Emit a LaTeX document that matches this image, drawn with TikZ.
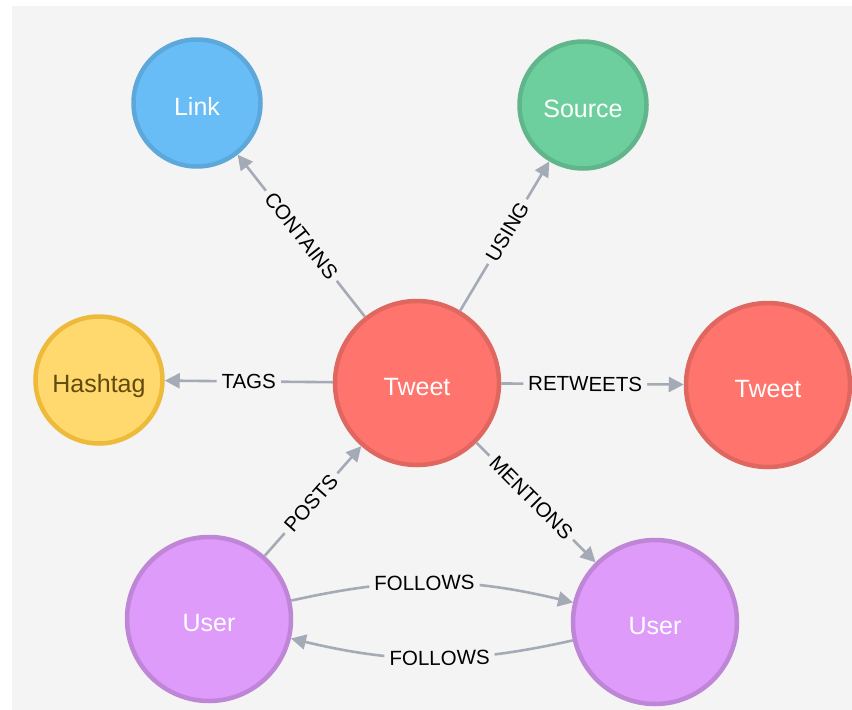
\documentclass[tikz,border=0pt]{standalone}
\usepackage{fontspec}
\setmainfont{Liberation Sans}
\usetikzlibrary{arrows.meta}
\definecolor{panel}{HTML}{F4F4F4}
\definecolor{edgec}{HTML}{A5ABB6}
\definecolor{linkf}{HTML}{68BDF6}\definecolor{linkb}{HTML}{5CA8DB}
\definecolor{srcf}{HTML}{6DCE9E}\definecolor{srcb}{HTML}{60B58B}
\definecolor{hashf}{HTML}{FFD86E}\definecolor{hashb}{HTML}{EDBA39}\definecolor{hasht}{HTML}{604A0E}
\definecolor{twf}{HTML}{FF756E}\definecolor{twb}{HTML}{E06760}
\definecolor{usf}{HTML}{DE9BF9}\definecolor{usb}{HTML}{BF85D6}
\tikzset{
  gnode/.style={circle, line width=4.5pt, inner sep=0pt, text=white, text height=24pt, text depth=0pt, font=\fontsize{25}{30}\selectfont},
  small/.style={gnode, minimum size=127pt},
  big/.style={gnode, minimum size=164pt},
  rel/.style={draw=edgec, line width=2.6pt, -{Triangle[length=15pt,width=15pt]}},
  lab/.style={fill=panel, inner sep=5pt, text=black, font=\fontsize{20.5}{24}\selectfont, sloped},
}
\begin{document}
\begin{tikzpicture}[x=1pt,y=-1pt]
\useasboundingbox (0,0) rectangle (852,710);
\fill[white] (0,0) rectangle (852,710);
\fill[panel] (12,6) rectangle (852,710);
\node[small, fill=linkf, draw=linkb] (link) at (197,103) {Link};
\node[small, fill=srcf, draw=srcb] (source) at (583,105) {Source};
\node[small, fill=hashf, draw=hashb, text=hasht] (hash) at (99,380) {Hashtag};
\node[big, fill=twf, draw=twb] (tweet) at (417,383) {Tweet};
\node[big, fill=twf, draw=twb] (tweet2) at (768,385) {Tweet};
\node[big, fill=usf, draw=usb] (user1) at (209,619) {User};
\node[big, fill=usf, draw=usb] (user2) at (655,622) {User};
\draw[rel] (tweet) -- node[lab] {CONTAINS} (link);
\draw[rel] (tweet) -- node[lab, pos=0.53] {USING} (source);
\draw[rel] (tweet) -- node[lab] {TAGS} (hash);
\draw[rel] (tweet) -- node[lab, pos=0.46] {RETWEETS} (tweet2);
\draw[rel] (tweet) -- node[lab, pos=0.46] {MENTIONS} (user2);
\draw[rel] (user1) -- node[lab, pos=0.48] {POSTS} (tweet);
\draw[rel] (user1) to[bend left=13] node[lab, pos=0.47] {FOLLOWS} (user2);
\draw[rel] (user2) to[bend left=13] node[lab, pos=0.47] {FOLLOWS} (user1);
\end{tikzpicture}
\end{document}
